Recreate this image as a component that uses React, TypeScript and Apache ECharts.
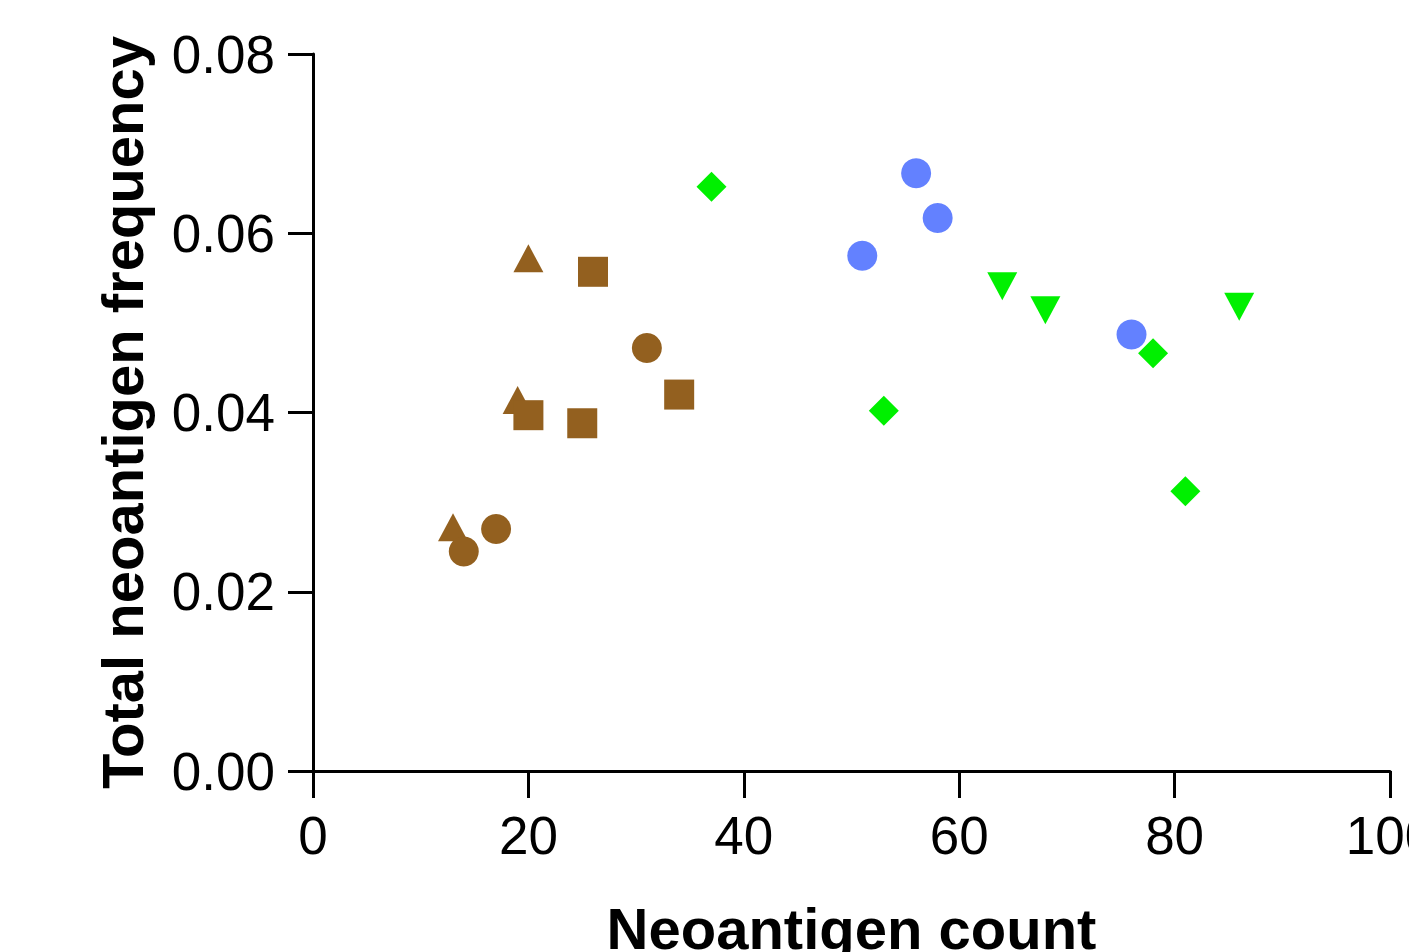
import React, { useEffect, useRef } from "react";
import * as echarts from "echarts";

const brownTriangles: [number, number][] = [[20, 0.0572], [19, 0.0414], [13, 0.0272]];
const brownSquares: [number, number][] = [[26, 0.0557], [20, 0.0397], [25, 0.0388], [34, 0.042]];
const brownCircles: [number, number][] = [[31, 0.0472], [14, 0.0245], [17, 0.027]];
const greenDiamonds: [number, number][] = [[37, 0.0652], [53, 0.0402], [78, 0.0466], [81, 0.0312]];
const blueCircles: [number, number][] = [[56, 0.0667], [58, 0.0617], [51, 0.0575], [76, 0.0487]];
const greenDownTriangles: [number, number][] = [[64, 0.0541], [68, 0.0514], [86, 0.0518]];

const xTicks = { min: 0, max: 100, interval: 20 };
const yTicks = { min: 0, max: 0.08, interval: 0.02 };

const BROWN = "#93601F";
const BLUE = "#6381FF";
const GREEN = "#00F000";

export default function App() {
  const ref = useRef<HTMLDivElement>(null);
  useEffect(() => {
    const chart = echarts.init(ref.current!, null, { renderer: "svg" });
    const font = "Liberation Sans, Arial, sans-serif";
    const mk = (data: [number, number][], symbol: string, color: string, size: number | number[]) => ({
      type: "scatter",
      data,
      symbol,
      symbolSize: size,
      itemStyle: { color, opacity: 1 },
      z: 3,
    });
    chart.setOption({
      animation: false,
      grid: {
        left: 313,
        right: 19,
        top: 54,
        bottom: 181,
        containLabel: false,
        outerBoundsMode: "none",
      },
      xAxis: {
        type: "value",
        min: xTicks.min,
        max: xTicks.max,
        interval: xTicks.interval,
        name: "Neoantigen count",
        nameLocation: "middle",
        nameGap: 128,
        nameTextStyle: { fontSize: 58, fontWeight: "bold", color: "#000", fontFamily: font },
        axisLine: { show: true, lineStyle: { color: "#000", width: 3 } },
        axisTick: { show: true, length: 27, lineStyle: { color: "#000", width: 3 } },
        axisLabel: { fontSize: 53, color: "#000", margin: 38, fontFamily: font },
        splitLine: { show: false },
      },
      yAxis: {
        type: "value",
        min: yTicks.min,
        max: yTicks.max,
        interval: yTicks.interval,
        name: "Total neoantigen frequency",
        nameLocation: "middle",
        nameGap: 162,
        nameTextStyle: { fontSize: 58, fontWeight: "bold", color: "#000", fontFamily: font },
        axisLine: { show: true, lineStyle: { color: "#000", width: 3 } },
        axisTick: { show: true, length: 25, lineStyle: { color: "#000", width: 3 } },
        axisLabel: {
          fontSize: 53,
          color: "#000",
          margin: 38,
          fontFamily: font,
          formatter: (v: number) => v.toFixed(2),
        },
        splitLine: { show: false },
      },
      series: [
        mk(brownTriangles, "triangle", BROWN, [30, 28]),
        mk(brownSquares, "rect", BROWN, 30),
        mk(brownCircles, "circle", BROWN, 30),
        mk(greenDiamonds, "path://M1,0 L2,1 L1,2 L0,1 Z", GREEN, 30),
        mk(blueCircles, "circle", BLUE, 30),
        mk(greenDownTriangles, "path://M0,0 L2,0 L1,2 Z", GREEN, [30, 28]),
      ],
    });
    return () => chart.dispose();
  }, []);
  return (
    <div
      ref={ref}
      style={{ position: "fixed", left: 0, top: 0, width: 1409, height: 952, background: "#fff" }}
    />
  );
}
